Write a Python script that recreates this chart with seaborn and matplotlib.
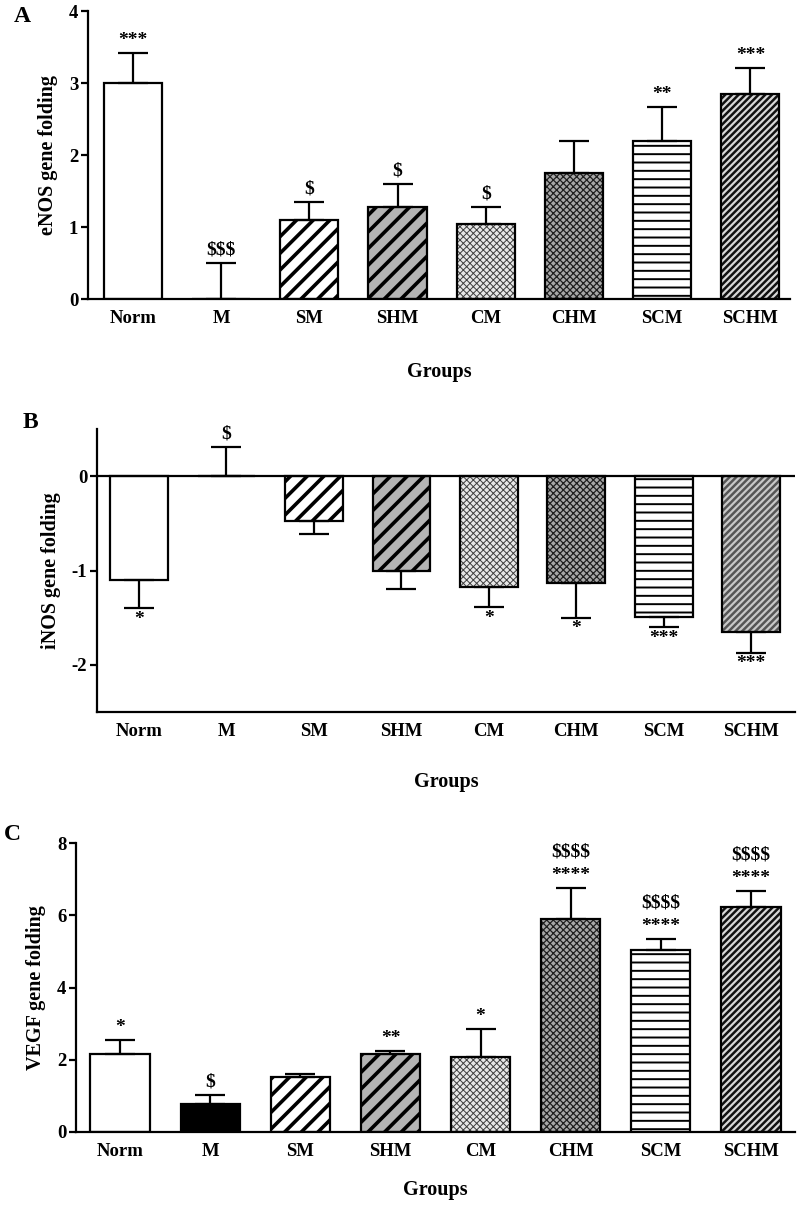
import numpy as np
import pandas as pd
import matplotlib
matplotlib.use("Agg")
import matplotlib.pyplot as plt
import seaborn as sns

# ---------------- data ----------------
groups = ["Norm", "M", "SM", "SHM", "CM", "CHM", "SCM", "SCHM"]

enos_mean = [3.00, 0.00, 1.10, 1.28, 1.04, 1.75, 2.19, 2.85]
enos_err_end = [3.42, 0.50, 1.35, 1.60, 1.28, 2.19, 2.67, 3.21]
enos_sig = ["***", "$$$", "$", "$", "$", "", "**", "***"]

inos_mean = [-1.10, 0.00, -0.47, -1.01, -1.17, -1.13, -1.49, -1.65]
inos_err_end = [-1.40, 0.31, -0.61, -1.20, -1.39, -1.50, -1.60, -1.87]
inos_sig = ["*", "$", "", "", "*", "*", "***", "***"]

vegf_mean = [2.16, 0.78, 1.52, 2.16, 2.08, 5.90, 5.04, 6.23]
vegf_err_end = [2.55, 1.02, 1.60, 2.25, 2.86, 6.76, 5.35, 6.68]
vegf_sig = ["*", "$", "", "**", "*", "$$$$\n****", "$$$$\n****", "$$$$\n****"]

# ---------------- style ----------------
sns.set_theme(style="ticks")
plt.rcParams["font.family"] = ["Liberation Serif", "DejaVu Serif"]
plt.rcParams["font.weight"] = "bold"
plt.rcParams["axes.labelweight"] = "bold"
plt.rcParams["axes.unicode_minus"] = False
plt.rcParams["axes.linewidth"] = 1.6
for k in ["text.color", "axes.labelcolor", "xtick.color", "ytick.color",
          "axes.edgecolor"]:
    plt.rcParams[k] = "black"

# (facecolor, hatch, hatchcolor, hatch lw)
styles_common = {
    "Norm": ("white", "", "black", 1.0),
    "M": ("black", "", "black", 1.0),
    "SM": ("white", "//", "black", 2.6),
    "SHM": ("#b4b4b4", "//", "black", 2.6),
    "CM": ("#e8e8e8", "xxxxx", "#404040", 0.7),
    "CHM": ("#a8a8a8", "xxxxx", "#202020", 0.9),
    "SCM": ("white", "--", "black", 1.4),
    "SCHM": ("#d8d8d8", "/////", "#111111", 1.8),
}
styles_B = dict(styles_common)
styles_B["SCHM"] = ("#c8c8c8", "/////", "#555555", 1.8)

W, H = 797, 1205
fig = plt.figure(figsize=(W / 100, H / 100), dpi=100)


def panel(rect, means, err_end, sigs, ylabel, ylim, yticks, xlim, styles,
          letter, letter_xy, negative=False, xlabelpad=26):
    ax = fig.add_axes(rect)
    df = pd.DataFrame({"group": groups, "value": means})
    sns.barplot(data=df, x="group", y="value", order=groups, color="white",
                width=0.66, errorbar=None, linewidth=0, ax=ax)
    for patch, g in zip(ax.patches, groups):
        fc, hatch, hc, hlw = styles[g]
        patch.set_facecolor(fc)
        patch.set_edgecolor(hc)
        patch.set_linewidth(0)
        patch.set_hatch(hatch)
        if hasattr(patch, "set_hatch_linewidth"):
            patch.set_hatch_linewidth(hlw)
    # outline layer
    sns.barplot(data=df, x="group", y="value", order=groups, color="black",
                fill=False, width=0.66, errorbar=None, linewidth=1.6, ax=ax)

    # one-sided error bars
    xs = np.arange(len(groups))
    m = np.array(means)
    e = np.array(err_end)
    lower = np.where(e < m, m - e, 0)
    upper = np.where(e > m, e - m, 0)
    ax.errorbar(xs, m, yerr=[lower, upper], fmt="none", ecolor="black",
                elinewidth=1.6, capsize=10.8, capthick=1.6, zorder=5)

    for x, val, end, s in zip(xs, m, e, sigs):
        if not s:
            continue
        if end >= val:
            ax.annotate(s, (x, end), xytext=(0, 3), textcoords="offset points",
                        ha="center", va="bottom", fontsize=14,
                        fontweight="bold", parse_math=False, linespacing=1.45)
        else:
            ax.annotate(s, (x, end), xytext=(0, -2), textcoords="offset points",
                        ha="center", va="top", fontsize=14,
                        fontweight="bold", parse_math=False)

    ax.set_ylim(*ylim)
    ax.set_yticks(yticks)
    ax.set_xlim(*xlim)
    ax.set_ylabel(ylabel, fontsize=14.5, fontweight="bold", labelpad=8)
    ax.set_xlabel("Groups", fontsize=14.5, fontweight="bold",
                  labelpad=xlabelpad)
    ax.tick_params(axis="x", length=0, pad=8, labelsize=13.5)
    ax.tick_params(axis="y", length=5, width=1.6, labelsize=13.5, pad=2)
    for lab in ax.get_xticklabels() + ax.get_yticklabels():
        lab.set_fontweight("bold")
    sns.despine(ax=ax)
    if negative:
        ax.axhline(0, color="black", linewidth=1.6, zorder=1)
    fig.text(letter_xy[0] / W, 1 - letter_xy[1] / H, letter, fontsize=17,
             fontweight="bold", ha="center", va="center")
    return ax


panel([88 / W, 1 - 299 / H, (790 - 88) / W, (299 - 11) / H],
      enos_mean, enos_err_end, enos_sig, "eNOS gene folding",
      (0, 4), [0, 1, 2, 3, 4], (-0.51, 7.45), styles_common, "A", (22, 17),
      xlabelpad=25)

panel([97 / W, 1 - 712 / H, (795 - 97) / W, (712 - 429) / H],
      inos_mean, inos_err_end, inos_sig, "iNOS gene folding",
      (-2.5, 0.5), [-2, -1, 0], (-0.48, 7.5), styles_B, "B", (30, 423),
      negative=True, xlabelpad=23)

panel([76 / W, 1 - 1132 / H, (795 - 76) / W, (1132 - 843) / H],
      vegf_mean, vegf_err_end, vegf_sig, "VEGF gene folding",
      (0, 8), [0, 2, 4, 6, 8], (-0.49, 7.49), styles_common, "C", (12, 835),
      xlabelpad=14)

fig.savefig("out.png", dpi=100)
